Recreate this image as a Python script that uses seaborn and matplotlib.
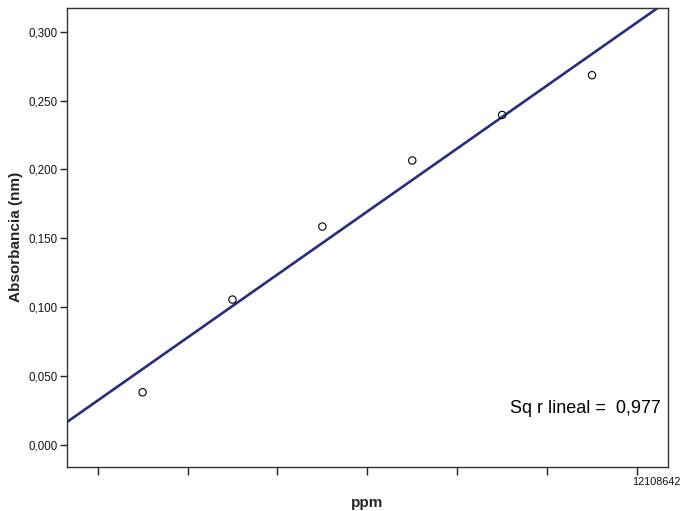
import matplotlib
matplotlib.use("Agg")
import matplotlib.pyplot as plt
import seaborn as sns
import pandas as pd
import numpy as np

# Data
ppm = [2, 4, 6, 8, 10, 12]
absorbancia = [0.0380, 0.1054, 0.1585, 0.2065, 0.2396, 0.2685]
y_ticks = [0.0, 0.05, 0.10, 0.15, 0.20, 0.25, 0.30]
y_tick_labels = ["0,000", "0,050", "0,100", "0,150", "0,200", "0,250", "0,300"]
x_ticks = [1, 3, 5, 7, 9, 11, 13]
x_tick_labels = ["", "", "", "", "", "", "12108642"]
r2_text = "Sq r lineal =  0,977"

df = pd.DataFrame({"ppm": ppm, "abs": absorbancia})

sns.set_theme(style="white")
plt.rcParams["font.family"] = ["Liberation Sans", "DejaVu Sans"]

fig = plt.figure(figsize=(6.83, 5.11), dpi=100)
ax = fig.add_axes([0.0985, 0.0861, 0.8795, 0.8992])

ax.set_xlim(0.324, 13.69)
ax.set_ylim(-0.0163, 0.3177)

sns.regplot(data=df, x="ppm", y="abs", ax=ax, ci=None, truncate=False,
            scatter=False, line_kws=dict(color="#2a2c7c", lw=1.9))
sns.scatterplot(data=df, x="ppm", y="abs", ax=ax, marker="o", s=28,
                facecolor="none", edgecolor="black", linewidth=0.8, zorder=3)

ax.set_xlim(0.324, 13.69)
ax.set_ylim(-0.0163, 0.3177)

ax.set_yticks(y_ticks)
ax.set_yticklabels(y_tick_labels, fontsize=8.3, color="#111111")
ax.set_xticks(x_ticks)
ax.set_xticklabels([""] * len(x_ticks))
for xt, lab in zip(x_ticks, x_tick_labels):
    if lab:
        ax.annotate(lab, xy=(xt, 0), xycoords=ax.get_xaxis_transform(),
                    xytext=(-5, -15), textcoords="offset pixels",
                    ha="left", va="center", fontsize=7.8, color="#111111",
                    annotation_clip=False)

ax.tick_params(axis="both", which="major", direction="out", length=5,
               width=1, color="#222222", bottom=True, left=True)
ax.tick_params(axis="x", length=6, pad=3)
ax.tick_params(axis="y", pad=2)

for sp in ax.spines.values():
    sp.set_visible(True)
    sp.set_color("#333333")
    sp.set_linewidth(1.0)

ax.set_xlabel("ppm", fontsize=11, fontweight="bold", va="center")
ax.xaxis.set_label_coords(0.5, -0.078)
ax.set_ylabel("Absorbancia (nm)", fontsize=11, fontweight="bold", labelpad=4)

ax.text(0.988, 0.128, r2_text, transform=ax.transAxes, ha="right",
        va="center", fontsize=13, color="black")

fig.savefig("out.png", dpi=100)
